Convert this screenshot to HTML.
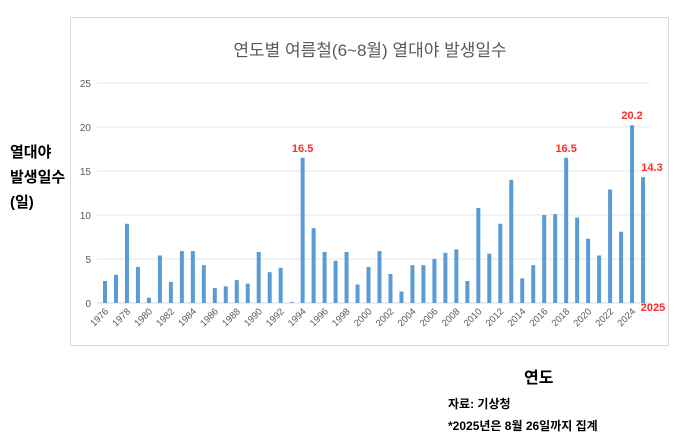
<!DOCTYPE html>
<html><head><meta charset="utf-8"><style>
body{margin:0;width:700px;height:434px;background:#fff;font-family:"Liberation Sans","Noto Sans CJK KR",sans-serif;overflow:hidden;position:relative}
.t{position:absolute;white-space:nowrap}
</style></head><body>
<div style="position:absolute;left:70px;top:17px;width:597px;height:327px;border:1px solid #d9d9d9"></div>
<svg id="c" width="700" height="434" style="position:absolute;left:0;top:0">
<text x="370" y="56" text-anchor="middle" font-size="17" fill="#595959" font-family="Liberation Sans,Noto Sans CJK KR,sans-serif">연도별 여름철(6~8월) 열대야 발생일수</text>
</svg>
<div class="t" style="left:10px;top:140px;font-weight:bold;font-size:15px;line-height:25px;color:#000">열대야<br>발생일수<br>(일)</div>
<div class="t" style="left:524px;top:364px;font-weight:bold;font-size:16px">연도</div>
<div class="t" style="left:448px;top:395px;font-weight:bold;font-size:12px">자료: 기상청</div>
<div class="t" style="left:448px;top:417px;font-weight:bold;font-size:12px">*2025년은 8월 26일까지 집계</div>
<script>
const years=[1976,1977,1978,1979,1980,1981,1982,1983,1984,1985,1986,1987,1988,1989,1990,1991,1992,1993,1994,1995,1996,1997,1998,1999,2000,2001,2002,2003,2004,2005,2006,2007,2008,2009,2010,2011,2012,2013,2014,2015,2016,2017,2018,2019,2020,2021,2022,2023,2024,2025];
const values=[2.5,3.2,9.0,4.1,0.6,5.4,2.4,5.9,5.9,4.3,1.7,1.9,2.6,2.2,5.8,3.5,4.0,0.1,16.5,8.5,5.8,4.8,5.8,2.1,4.1,5.9,3.3,1.3,4.3,4.3,5.0,5.7,6.1,2.5,10.8,5.6,9.0,14.0,2.8,4.3,10.0,10.1,16.5,9.7,7.3,5.4,12.9,8.1,20.2,14.3];
const yTicks=[0,5,10,15,20,25];
const highlighted=[1994,2018,2024,2025];
const svg=document.getElementById('c'),NS='http://www.w3.org/2000/svg';
const y=v=>303-v*8.8, x=i=>105+i*10.98;
function mk(t,a){const e=document.createElementNS(NS,t);for(const k in a)e.setAttribute(k,a[k]);svg.appendChild(e);return e;}
yTicks.forEach(v=>{
 const g=mk('line',{x1:97,x2:650,y1:y(v),y2:y(v),stroke:v?'#e6e6e6':'#d9d9d9','stroke-width':1});
 
 
 const t=mk('text',{x:91,y:y(v)+4,'text-anchor':'end','font-size':10,fill:'#595959'});t.textContent=v;
 
 
});
years.forEach((yr,i)=>{
 const r=mk('rect',{x:x(i)-2,y:y(values[i]),width:4,height:303-y(values[i]),fill:'#5b9bd5'});
 
 
 if(i%2===0){const t=mk('text',{x:x(i)+4,y:312,'text-anchor':'end','font-size':9.5,fill:'#595959',transform:`rotate(-45 ${x(i)+4} 312)`});t.textContent=yr;
  
  }
 if(highlighted.includes(yr)){
  const t=mk('text',{x:x(i)+(yr===2025?9:0),y:y(values[i])-6,'text-anchor':'middle','font-size':11,'font-weight':'bold',fill:'#ff2a2a'});t.textContent=values[i].toFixed(1);
  
  
 }
});
const t=mk('text',{x:x(49)+10,y:311,'text-anchor':'middle','font-size':11,'font-weight':'bold',fill:'#ff2a2a'});t.textContent='2025';


</script>
</body></html>
